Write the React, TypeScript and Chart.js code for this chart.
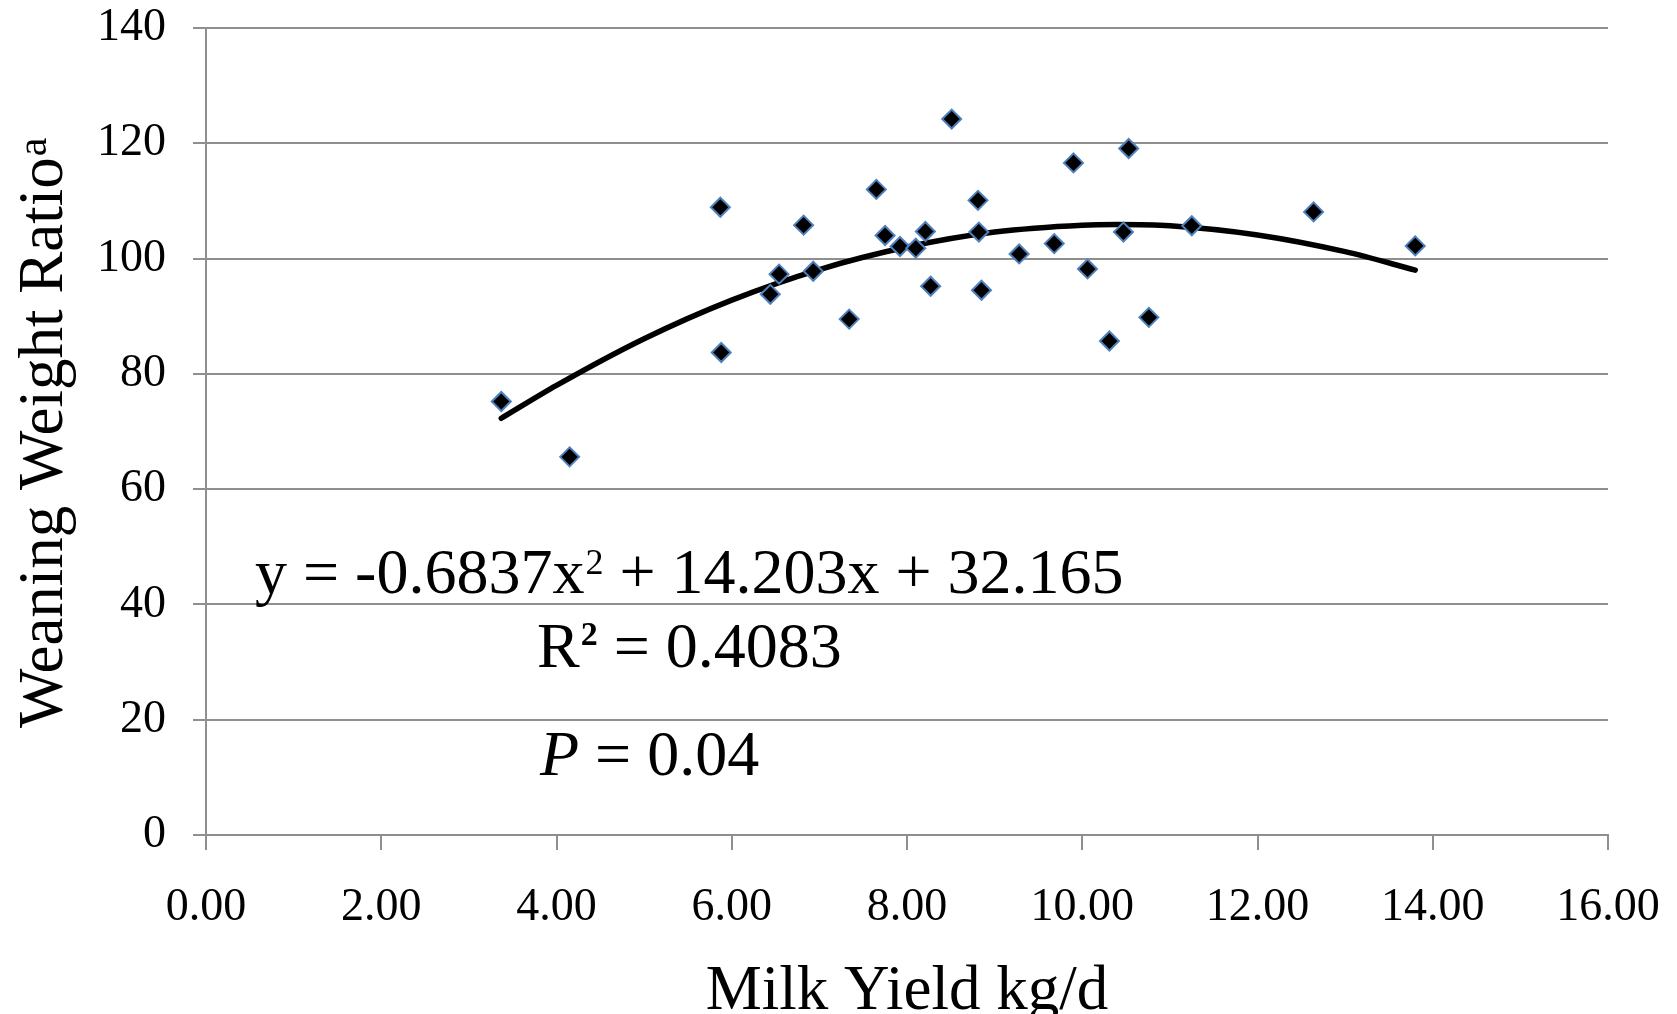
import React, { useEffect, useRef } from 'react';
import { Chart, registerables } from 'chart.js';

Chart.register(...registerables);

// Scatter data: milk yield (kg/d) vs weaning weight ratio
const milkYield = [3.37, 4.15, 5.87, 5.88, 6.44, 6.54, 6.82, 6.93, 7.34, 7.65, 7.75, 7.92, 8.10, 8.21, 8.27, 8.51, 8.81, 8.82, 8.85, 9.28, 9.68, 9.90, 10.06, 10.31, 10.47, 10.53, 10.76, 11.25, 12.64, 13.80];
const weaningRatio = [75.2, 65.6, 108.9, 83.7, 93.8, 97.3, 105.8, 97.8, 89.5, 112.0, 104.0, 102.1, 101.8, 104.7, 95.2, 124.2, 110.1, 104.6, 94.5, 100.8, 102.6, 116.6, 98.2, 85.7, 104.6, 119.1, 89.8, 105.7, 108.1, 102.2];

// Trend curve
const trendX = [3.37, 4, 5, 6, 7, 8, 9, 10, 10.4, 11, 12, 13, 13.8];
const trendY = [72.3, 78.0, 86.1, 92.8, 98.1, 102.0, 104.6, 105.8, 105.9, 105.7, 104.1, 101.2, 98.0];

const xAxisRange = [0, 16];
const xStep = 2;
const yAxisRange = [0, 140];
const yStep = 20;

const xTitle = 'Milk Yield kg/d';
const yTitle = 'Weaning Weight Ratio';
const yTitleSup = 'a';
const equationParts = ['y = -0.6837x', '2', ' + 14.203x + 32.165'];
const r2Parts = ['R', '2', ' = 0.4083'];
const pParts = ['P', ' = 0.04'];

const FONT = "'Liberation Serif', 'Times New Roman', serif";
const GRID = '#8f8f8f';

const annotationPlugin = {
  id: 'annotations',
  afterDraw(chart: any) {
    const ctx = chart.ctx as CanvasRenderingContext2D;
    const a = chart.chartArea;
    ctx.save();
    ctx.fillStyle = '#000';
    ctx.textAlign = 'left';
    ctx.textBaseline = 'alphabetic';

    // Equation
    let x = a.left + 49;
    let y = 593;
    ctx.font = `64px ${FONT}`;
    ctx.fillText(equationParts[0], x, y);
    x += ctx.measureText(equationParts[0]).width + 1;
    ctx.font = `36px ${FONT}`;
    ctx.fillText(equationParts[1], x, y - 19);
    x += ctx.measureText(equationParts[1]).width;
    ctx.font = `64px ${FONT}`;
    ctx.fillText(equationParts[2], x, y);

    // R squared
    x = a.left + 331;
    y = 667;
    ctx.font = `64px ${FONT}`;
    ctx.fillText(r2Parts[0], x, y);
    x += ctx.measureText(r2Parts[0]).width + 1;
    ctx.font = `bold 34px ${FONT}`;
    ctx.fillText(r2Parts[1], x, y - 22);
    x += ctx.measureText(r2Parts[1]).width;
    ctx.font = `64px ${FONT}`;
    ctx.fillText(r2Parts[2], x, y);

    // P value
    x = a.left + 334;
    y = 775;
    ctx.font = `italic 64px ${FONT}`;
    ctx.fillText(pParts[0], x, y);
    x += ctx.measureText(pParts[0]).width;
    ctx.font = `64px ${FONT}`;
    ctx.fillText(pParts[1], x, y);

    // X title
    ctx.font = `63px ${FONT}`;
    ctx.textAlign = 'center';
    ctx.fillText(xTitle, (a.left + a.right) / 2, 1009);

    // Y title (rotated)
    ctx.translate(62, 728);
    ctx.rotate(-Math.PI / 2);
    ctx.textAlign = 'left';
    ctx.font = `63px ${FONT}`;
    ctx.fillText(yTitle, 0, 0);
    const w = ctx.measureText(yTitle).width;
    ctx.font = `42px ${FONT}`;
    ctx.fillText(yTitleSup, w + 1, -16);
    ctx.restore();
  },
};

export default function App() {
  const ref = useRef<HTMLCanvasElement>(null);

  useEffect(() => {
    document.body.style.margin = '0';
    const points = milkYield.map((v, i) => ({ x: v, y: weaningRatio[i] }));
    const trend = trendX.map((v, i) => ({ x: v, y: trendY[i] }));
    const tickFont = { family: FONT, size: 46 };

    const chart = new Chart(ref.current as HTMLCanvasElement, {
      type: 'scatter',
      data: {
        datasets: [
          {
            label: 'Observed',
            data: points,
            order: 0,
            pointStyle: 'rectRot',
            pointRadius: 9.5,
            pointHoverRadius: 9.5,
            backgroundColor: '#000000',
            borderColor: '#4f81bd',
            borderWidth: 2,
          },
          {
            label: 'Trend',
            type: 'line',
            data: trend,
            order: 1,
            showLine: true,
            pointRadius: 0,
            borderColor: '#000000',
            borderWidth: 5.5,
            borderCapStyle: 'round',
            cubicInterpolationMode: 'monotone',
            fill: false,
          } as any,
        ],
      },
      options: {
        animation: false,
        responsive: false,
        devicePixelRatio: 1,
        layout: { padding: { top: 28, right: 69, bottom: 0, left: 0 } },
        plugins: {
          legend: { display: false },
          tooltip: { enabled: false },
          title: { display: false },
        },
        events: [],
        scales: {
          x: {
            type: 'linear',
            min: xAxisRange[0],
            max: xAxisRange[1],
            afterFit: (scale: any) => {
              scale.height = 1014 - 835;
              scale.paddingLeft = 0;
              scale.paddingRight = 0;
            },
            ticks: {
              stepSize: xStep,
              padding: 30,
              color: '#000',
              font: tickFont,
              maxRotation: 0,
              callback: (v: any) => Number(v).toFixed(2),
            },
            grid: {
              drawOnChartArea: false,
              drawTicks: true,
              tickLength: 15,
              color: GRID,
              lineWidth: 2,
            },
            border: { display: true, color: GRID, width: 2 },
          },
          y: {
            type: 'linear',
            min: yAxisRange[0],
            max: yAxisRange[1],
            afterFit: (scale: any) => {
              scale.width = 206;
              scale.paddingTop = 0;
              scale.paddingBottom = 0;
            },
            ticks: {
              stepSize: yStep,
              padding: 27,
              color: '#000',
              font: tickFont,
            },
            grid: {
              drawOnChartArea: true,
              drawTicks: true,
              tickLength: 13,
              color: GRID,
              lineWidth: 2,
            },
            border: { display: true, color: GRID, width: 2 },
          },
        },
      } as any,
      plugins: [annotationPlugin],
    });

    return () => chart.destroy();
  }, []);

  return (
    <div style={{ width: 1677, height: 1014, overflow: 'hidden' }}>
      <canvas ref={ref} width={1677} height={1014} style={{ display: 'block' }} />
    </div>
  );
}
